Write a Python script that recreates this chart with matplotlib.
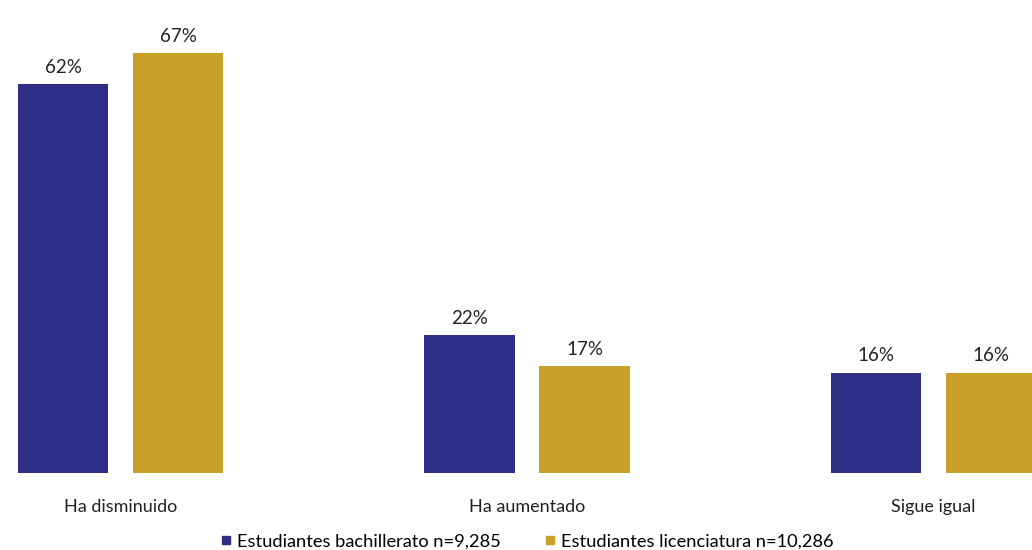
import matplotlib.pyplot as plt
import numpy as np
from matplotlib.lines import Line2D

plt.rcParams['font.family'] = ['Lato', 'DejaVu Sans']

categories = ["Ha disminuido", "Ha aumentado", "Sigue igual"]
bachillerato = [62, 22, 16]
licenciatura = [67, 17, 16]
series_names = ["Estudiantes bachillerato n=9,285", "Estudiantes licenciatura n=10,286"]
colors = ["#2e2e86", "#c9a02a"]

fig = plt.figure(figsize=(10.32, 5.5), dpi=100)
ax = fig.add_axes([0, 0.14, 1, 0.86])

x = np.arange(len(categories))
width = 0.222
offset = 0.1416

b1 = ax.bar(x - offset, bachillerato, width, color=colors[0])
b2 = ax.bar(x + offset, licenciatura, width, color=colors[1])

# size text so the widths match the reference (which used Calibri)
r = fig.canvas.get_renderer()
def fit(s, px):
    t = fig.text(0, 0, s, fontsize=10)
    w = t.get_window_extent(r).width
    t.remove()
    return 10 * px / w

val_fs = fit("62%", 37)
cat_fs = fit("Ha disminuido", 114)
leg_fs = fit(series_names[0], 263)

for bars, vals in [(b1, bachillerato), (b2, licenciatura)]:
    for rect, v in zip(bars, vals):
        ax.text(rect.get_x() + rect.get_width() / 2, v + 1.3, f"{v}%",
                ha="center", va="bottom", fontsize=val_fs, color="#222222")

ax.set_xlim(-0.2968, 2.2426)
ax.set_ylim(0, 75.4)
ax.set_xticks(x)
ax.set_xticklabels(categories, fontsize=cat_fs, color="#222222")
ax.tick_params(axis="x", length=0, pad=19)
ax.set_yticks([])
for s in ax.spines.values():
    s.set_visible(False)

handles = [Line2D([], [], marker="s", linestyle="", color=c, markersize=6) for c in colors]
fig.legend(handles, series_names, loc="center", bbox_to_anchor=(0.51, 0.015),
           ncol=2, frameon=False, fontsize=leg_fs, handletextpad=0.2, columnspacing=2.3,
           handlelength=0.8)

fig.savefig("out.png", dpi=100)
